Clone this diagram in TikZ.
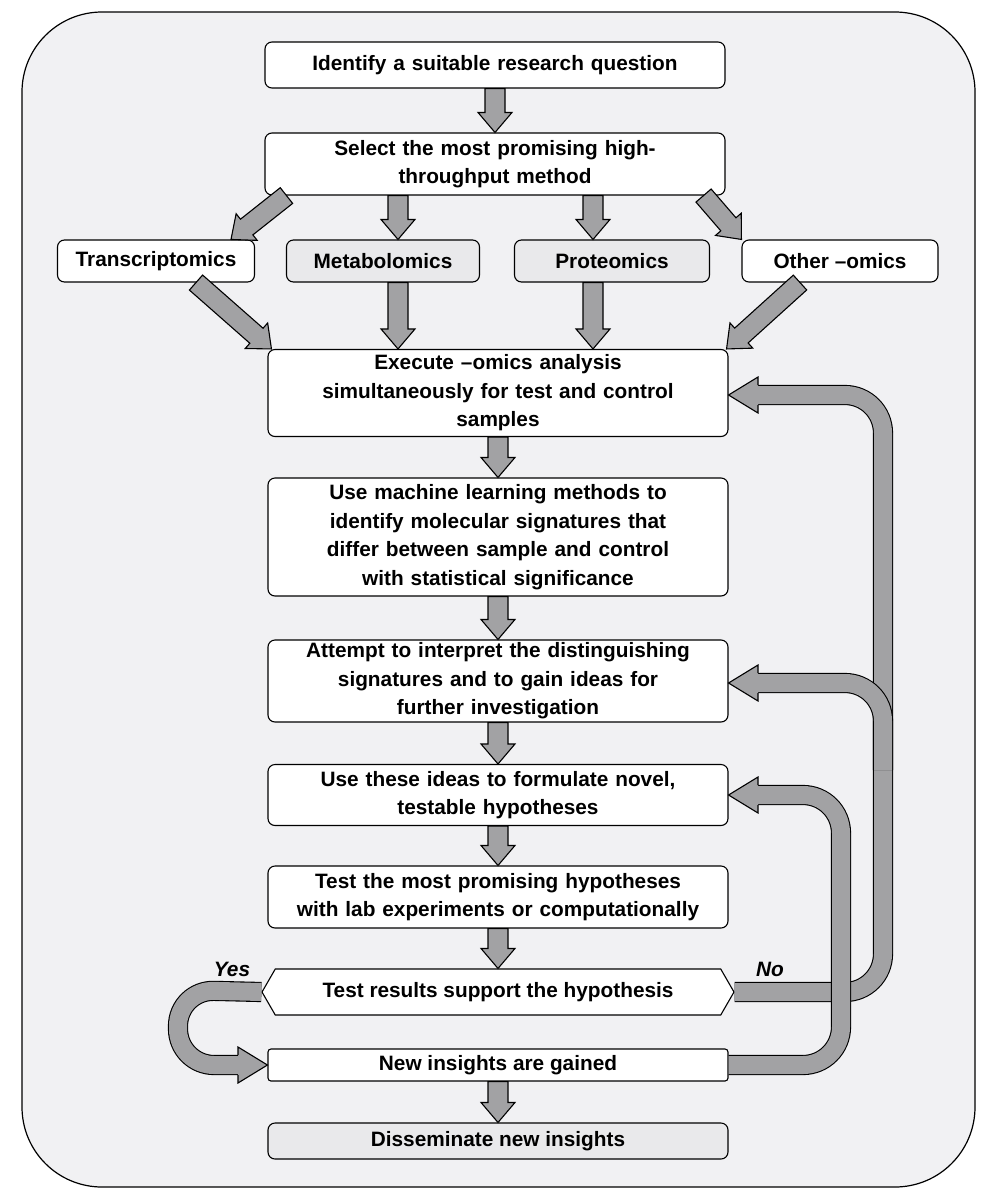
\documentclass[tikz,border=0pt]{standalone}
\usepackage{fontspec}
\setmainfont{Liberation Sans}
\usetikzlibrary{calc,shapes.symbols}
\definecolor{bg}{HTML}{F1F1F3}
\definecolor{ar}{HTML}{A2A2A4}
\definecolor{gb}{HTML}{E9E9EB}
\newcommand\blockarrow[2]{%
 \path (#2) coordinate (bt) ($(#2)!20pt!(#1)$) coordinate (bh);
 \draw[barrow] ($(#1)!10pt!90:(bh)$) -- ($(bh)!10pt!-90:(#1)$) -- ($(bh)!17pt!-90:(#1)$) -- (bt) -- ($(bh)!17pt!90:(#1)$) -- ($(bh)!10pt!90:(#1)$) -- ($(#1)!10pt!-90:(bh)$) -- cycle;}
\newcommand\ahead[2]{% tip, base point
 \filldraw[fill=ar,draw=black,line width=1.1pt,line join=miter] ($(#2)!10pt!90:(#1)$) -- ($(#2)!18pt!90:(#1)$) -- (#1) -- ($(#2)!18pt!-90:(#1)$) -- ($(#2)!10pt!-90:(#1)$);}
\begin{document}
\begin{tikzpicture}[x=1pt,y=-1pt,
 box/.style={draw,line width=1.1pt,rounded corners=7pt,fill=white,align=center,inner sep=2pt,
   font=\fontsize{20.8}{28.5}\selectfont\bfseries},
 wide/.style={box,minimum width=460pt,text width=450pt},
 barrow/.style={fill=ar,draw=black,line width=1.1pt,line join=miter},
 band/.style={line width=1.1pt,double=ar,double distance=18pt,rounded corners=38pt},
 lab/.style={font=\fontsize{20.8}{25}\selectfont\bfseries\itshape}]
\useasboundingbox (0,0) rectangle (987,1200);
\draw[line width=1.2pt,fill=bg,rounded corners=80pt] (22,12) rectangle (975,1187);
\node[wide,minimum height=46pt] (q) at (495,65) {Identify a suitable research question};
\node[wide,minimum height=62pt] (sel) at (495,164) {Select the most promising high-\\throughput method};
\node[box,minimum width=197pt,minimum height=42pt] (tr) at (156,261) {Transcriptomics};
\node[box,fill=gb,minimum width=193pt,minimum height=42pt] (me) at (383,261) {Metabolomics};
\node[box,fill=gb,minimum width=195pt,minimum height=42pt] (pr) at (612,261) {Proteomics};
\node[box,minimum width=196pt,minimum height=42pt] (ot) at (840,261) {Other –omics};
\node[wide,minimum height=87pt] (ex) at (498,393) {Execute –omics analysis\\simultaneously for test and control\\samples};
\node[wide,minimum height=118pt] (ml) at (498,537) {Use machine learning methods to\\identify molecular signatures that\\differ between sample and control\\with statistical significance};
\node[wide,minimum height=82pt] (at) at (498,681) {Attempt to interpret the distinguishing\\signatures and to gain ideas for\\further investigation};
\node[wide,minimum height=61pt] (ui) at (498,795) {Use these ideas to formulate novel,\\testable hypotheses};
\node[wide,minimum height=62pt] (te) at (498,897) {Test the most promising hypotheses\\with lab experiments or computationally};
\node[box,rounded corners=0pt,signal,signal to=east and west,signal pointer angle=120,minimum width=472pt,minimum height=46pt,inner xsep=0pt] (tr2) at (498,992) {Test results support the hypothesis};
\node[box,rounded corners=3pt,minimum width=460pt,minimum height=32pt] (ni) at (498,1065) {New insights are gained};
\node[box,fill=gb,minimum width=460pt,minimum height=36pt] (di) at (498,1141) {Disseminate new insights};
% straight arrows
\blockarrow{q.south}{sel.north}
\coordinate (s1) at ($(sel.south west)+(22,0)$); \coordinate (t1) at ($(tr.north)+(75,0)$);
\coordinate (s2) at ($(sel.south)+(-97,0)$); \coordinate (t2) at ($(me.north)+(15,0)$);
\coordinate (s3) at ($(sel.south)+(98,0)$); \coordinate (t3) at ($(pr.north)+(-19,0)$);
\coordinate (s4) at ($(sel.south east)+(-22,0)$); \coordinate (t4) at ($(ot.north west)+(0,0)$);
\blockarrow{s1}{t1}\blockarrow{s2}{t2}\blockarrow{s3}{t3}\blockarrow{s4}{t4}
\coordinate (u1) at ($(tr.south)+(40,0)$); \coordinate (v1) at ($(ex.north west)+(4,0)$);
\coordinate (u2) at ($(me.south)+(15,0)$); \coordinate (v2) at ($(ex.north)+(-100,0)$);
\coordinate (u3) at ($(pr.south)+(-19,0)$); \coordinate (v3) at ($(ex.north)+(95,0)$);
\coordinate (u4) at ($(ot.south)+(-40,0)$); \coordinate (v4) at ($(ex.north east)+(-2,0)$);
\blockarrow{u1}{v1}\blockarrow{u2}{v2}\blockarrow{u3}{v3}\blockarrow{u4}{v4}
\blockarrow{ex.south}{ml.north}
\blockarrow{ml.south}{at.north}
\blockarrow{at.south}{ui.north}
\blockarrow{ui.south}{te.north}
\blockarrow{te.south}{tr2.north}
\blockarrow{ni.south}{di.north}
% feedback No
\coordinate (nA) at (tr2.east); \coordinate (nE) at ($(ex.east)+(0,2)$); \coordinate (nAt) at ($(at.east)+(0,2)$);
\draw[band] (nA) -- (883,992) -- (883,395) -- (758,395);
\ahead{nE}{758,395}
\draw[band] (883,770) -- (883,683) -- (758,683);
\ahead{nAt}{758,683}
\coordinate (nU) at ($(ui.east)+(0,0)$);
\draw[band] (ni.east) -- (841,1065) -- (841,795) -- (758,795);
\ahead{nU}{758,795}
% Yes
\draw[band,rounded corners=36pt] (tr2.west) -- (178,990) -- (178,1065) -- (238,1065);
\ahead{ni.west}{238,1065}
\node[lab] (yes) at (232,969) {Yes};
\node[lab] (no) at (770,969) {No};
\end{tikzpicture}
\end{document}
